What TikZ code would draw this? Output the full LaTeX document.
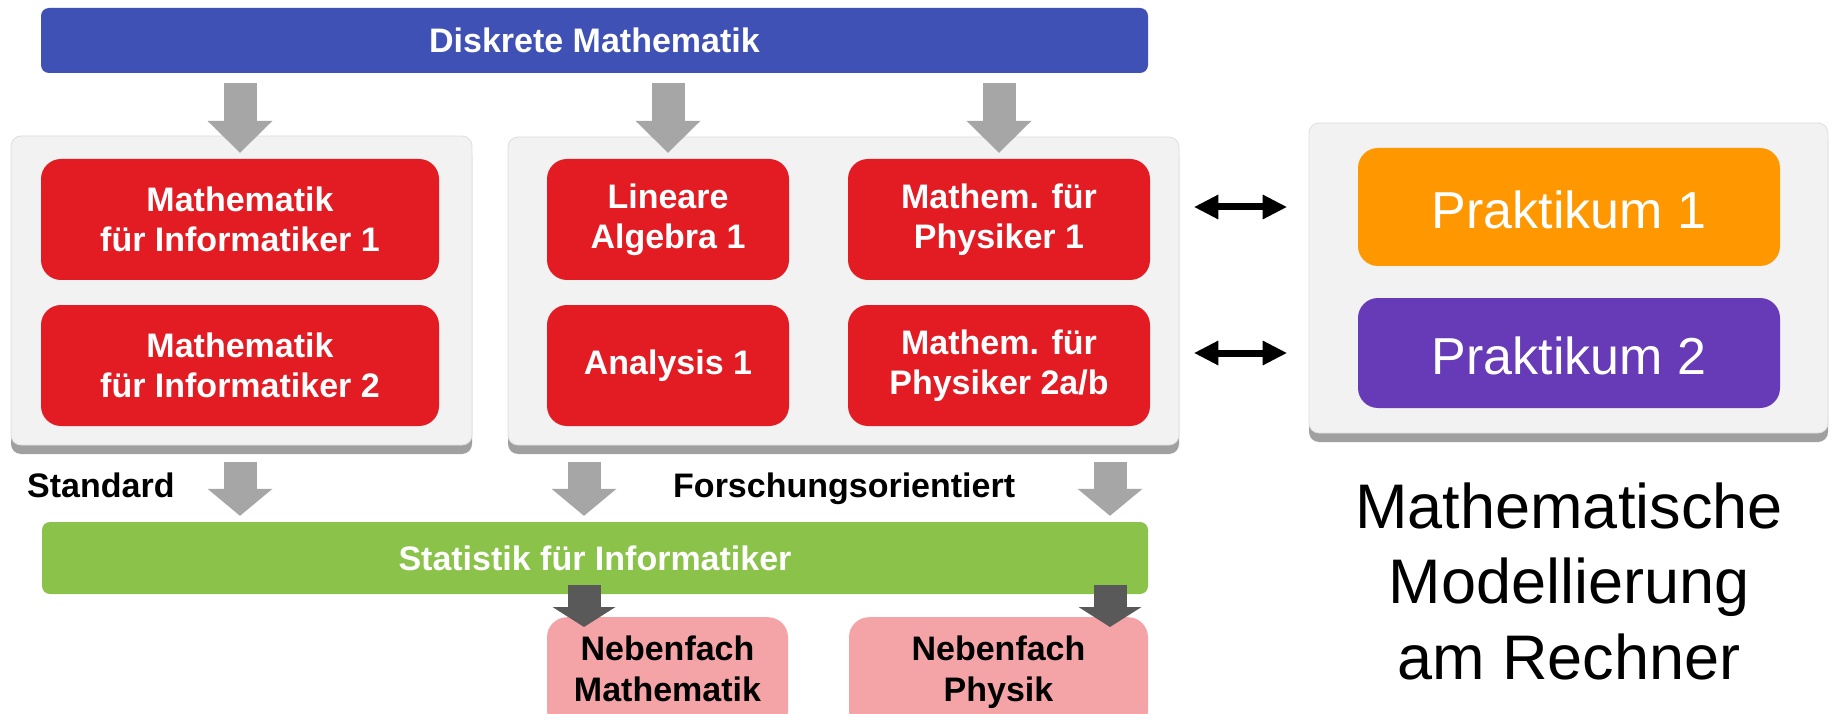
\documentclass[tikz,border=0pt]{standalone}
\usepackage{fontspec}
\setmainfont{Liberation Sans}
\usetikzlibrary{arrows.meta, positioning, shadows}
\definecolor{barblue}{RGB}{63,81,181}
\definecolor{bargreen}{RGB}{139,195,74}
\definecolor{coursered}{RGB}{227,27,35}
\definecolor{minorpink}{RGB}{244,164,167}
\definecolor{prakorange}{RGB}{255,152,0}
\definecolor{prakpurple}{RGB}{103,58,183}
\definecolor{panelgray}{RGB}{242,242,242}
\definecolor{panelline}{RGB}{222,222,222}
\definecolor{shadowgray}{RGB}{160,160,160}
\definecolor{arrowgray}{RGB}{166,166,166}
\definecolor{arrowdark}{RGB}{89,89,89}

\begin{document}
\begin{tikzpicture}[
  x = 1pt, y = -1pt,
  panel/.style = {rectangle, rounded corners=10pt, fill=panelgray, draw=panelline, line width=0.8pt, inner sep=0pt,
    drop shadow={shadow xshift=0pt, shadow yshift=-9pt, fill=shadowgray, opacity=1}},
  course/.style = {rectangle, rounded corners=20pt, fill=coursered, text=white, inner sep=0pt, align=center,
    minimum height=121pt, font=\bfseries\fontsize{34}{40}\selectfont},
  bar/.style = {rectangle, rounded corners=8pt, text=white, inner sep=0pt, font=\bfseries\fontsize{34}{40}\selectfont},
  prak/.style = {rectangle, rounded corners=20pt, text=white, inner sep=0pt, minimum width=422pt,
    font=\fontsize{52}{60}\selectfont},
  minor/.style = {rectangle, rounded corners=20pt, fill=minorpink, inner xsep=0pt, inner ysep=7pt, anchor=north,
    align=center, font=\bfseries\fontsize{34}{41}\selectfont},
  tag/.style = {anchor=base west, inner sep=0pt, font=\bfseries\fontsize{34}{40}\selectfont},
  grayarrow/.style = {draw=arrowgray, line width=33pt, -{Triangle[length=32pt, width=65pt, line width=0pt]}},
  lowarrow/.style = {draw=arrowgray, line width=33pt, -{Triangle[length=27pt, width=65pt, line width=0pt]}},
  darkarrow/.style = {draw=arrowdark, line width=33pt, -{Triangle[length=20pt, width=63pt, line width=0pt]}},
  dblarrow/.style = {line width=7pt, {Triangle[length=24pt, width=25pt, line width=0pt]}-{Triangle[length=24pt, width=25pt, line width=0pt]}}
]
  \path[use as bounding box, fill=white] (0,0) rectangle (1832,714);

  % panels
  \node[panel, minimum width=461pt, minimum height=309pt] (stdpanel) at (241.5,290.5) {};
  \node[panel, minimum width=671pt, minimum height=308pt] (fopanel) at (843.5,291) {};
  \node[panel, minimum width=519pt, minimum height=310pt] (mmrpanel) at (1568.5,278) {};

  % courses
  \node[bar, fill=barblue, minimum width=1107pt, minimum height=65pt] (dm) at (594.5,40.5) {Diskrete Mathematik};
  \node[course, minimum width=398pt] (mi1) at (240,219.5) {Mathematik\\für Informatiker 1};
  \node[course, minimum width=398pt] (mi2) at (240,365.5) {Mathematik\\für Informatiker 2};
  \node[course, minimum width=242pt] (la1) at (668,219.5) {Lineare\\Algebra 1};
  \node[course, minimum width=242pt] (an1) at (668,365.5) {Analysis 1};
  \node[course, minimum width=302pt] (mp1) at (999,219.5) {Mathem. für\\Physiker 1};
  \node[course, minimum width=302pt] (mp2) at (999,365.5) {Mathem. für\\Physiker 2a/b};
  \node[prak, fill=prakorange, minimum height=118pt] (pr1) at (1569,207) {\rule{0pt}{44pt}Praktikum 1};
  \node[prak, fill=prakpurple, minimum height=110pt] (pr2) at (1569,353) {\rule{0pt}{44pt}Praktikum 2};
  \node[bar, fill=bargreen, minimum width=1106pt, minimum height=72pt] (sf) at (595,558) {Statistik für Informatiker};
  \node[minor, minimum width=241pt] (nf1) at (667.5,617) {\rule{0pt}{36pt}Nebenfach\\Mathematik\rule[-22pt]{0pt}{0pt}};
  \node[minor, minimum width=299pt] (nf2) at (998.5,617) {\rule{0pt}{36pt}Nebenfach\\Physik\rule[-22pt]{0pt}{0pt}};

  \node[tag] (std) at (27,497) {Standard};
  \node[tag] (fo) at (673,497) {Forschungsorientiert};
  \node[align=center, inner sep=0pt, font=\fontsize{63}{75.5}\selectfont] (mmr) at (1569,581)
    {Mathematische\\Modellierung\\am Rechner};

  % arrows
  \draw[grayarrow, shorten <=10pt, shorten >=6pt] (dm.south -| mi1.north) -- (mi1.north);
  \draw[grayarrow, shorten <=10pt, shorten >=6pt] (dm.south -| la1.north) -- (la1.north);
  \draw[grayarrow, shorten <=10pt, shorten >=6pt] (dm.south -| mp1.north) -- (mp1.north);

  \coordinate (fo1) at (584,445);
  \coordinate (fo2) at (1110,445);
  \draw[lowarrow, shorten <=17pt, shorten >=6pt] (stdpanel.south -| mi2.south) -- (sf.north -| mi2.south);
  \draw[lowarrow, shorten <=17pt, shorten >=6pt] (fo1) -- (fo1 |- sf.north);
  \draw[lowarrow, shorten <=17pt, shorten >=6pt] (fo2) -- (fo2 |- sf.north);

  \draw[darkarrow, shorten <=-9pt, shorten >=-10pt] (fo1 |- sf.south) -- (fo1 |- nf1.north);
  \draw[darkarrow, shorten <=-9pt, shorten >=-10pt] (fo2 |- sf.south) -- (fo2 |- nf2.north);

  \draw[dblarrow, shorten <=15pt, shorten >=22pt] (fopanel.east |- pr1) -- (mmrpanel.west |- pr1);
  \draw[dblarrow, shorten <=15pt, shorten >=22pt] (fopanel.east |- pr2) -- (mmrpanel.west |- pr2);
\end{tikzpicture}
\end{document}
